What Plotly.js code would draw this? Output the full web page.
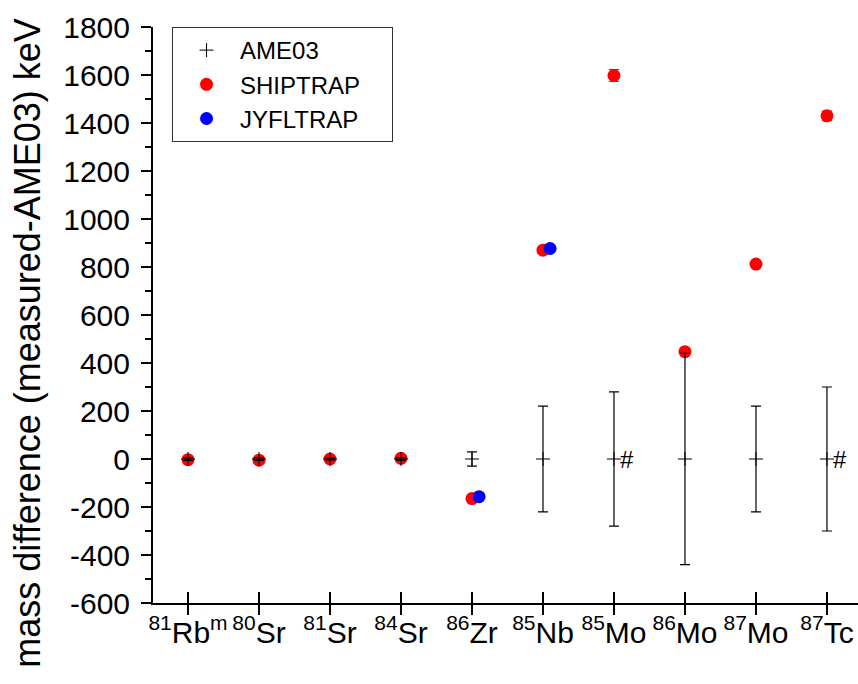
<!DOCTYPE html>
<html>
<head>
<meta charset="utf-8">
<script src="https://cdn.plot.ly/plotly-3.0.1.min.js"></script>
<style>html,body{margin:0;padding:0;background:#fff;}#chart{width:858px;height:684px;}</style>
</head>
<body>
<div id="chart"></div>
<script>
// ---- data ----
const nuclides = ["<sup>81</sup>Rb<sup>m</sup>", "<sup>80</sup>Sr", "<sup>81</sup>Sr", "<sup>84</sup>Sr", "<sup>86</sup>Zr",
                  "<sup>85</sup>Nb", "<sup>85</sup>Mo", "<sup>86</sup>Mo", "<sup>87</sup>Mo", "<sup>87</sup>Tc"];
const catIndex = [0, 1, 2, 3, 4, 5, 6, 7, 8, 9];

const yTickVals = [-600, -400, -200, 0, 200, 400, 600, 800, 1000, 1200, 1400, 1600, 1800];
const yTickText = ["-600", "-400", "-200", "0", "200", "400", "600", "800", "1000", "1200", "1400", "1600", "1800"];

const ame03Values = [0, 0, 0, 0, 0, 0, 0, 0, 0, 0];
const ame03Errors = [6, 6, 4, 6, 30, 220, 280, 440, 220, 300];

const shiptrapValues = [-3, -5, 0, 3, -165, 870, 1598, 447, 812, 1430];
const shiptrapErrors = [8, 8, 8, 8, 8, 8, 25, 8, 8, 20];

const jyflCats = [4, 5];           // 86Zr, 85Nb
const jyflValues = [-157, 877];
const jyflErrors = [8, 8];

const hashCats = [6, 9];           // 85Mo, 87Tc marked with "#"

// ---- styling constants ----
const jyflOffset = 0.1;
const hashOffset = 0.18;
const FONT = "Liberation Sans, Arial, sans-serif";
const PAD = "\u00a0\u00a0\u00a0\u00a0";

const traces = [
  {
    name: "SHIPTRAP" + PAD, x: catIndex, y: shiptrapValues, type: "scatter", mode: "markers",
    marker: {color: "#ff0000", size: 13, line: {width: 0}},
    error_y: {type: "data", array: shiptrapErrors, visible: true, color: "#ff0000", thickness: 1, width: 5},
    legendrank: 2
  },
  {
    name: "JYFLTRAP", x: jyflCats.map(c => c + jyflOffset), y: jyflValues, type: "scatter", mode: "markers",
    marker: {color: "#0000ff", size: 13, line: {width: 0}},
    error_y: {type: "data", array: jyflErrors, visible: true, color: "#0000ff", thickness: 1, width: 5},
    legendrank: 3
  },
  {
    name: "AME03", x: catIndex, y: ame03Values, type: "scatter", mode: "markers",
    marker: {symbol: "cross-thin-open", color: "#000", size: 10, line: {width: 1, color: "#000"}},
    error_y: {type: "data", array: ame03Errors, visible: true, color: "#000", thickness: 1.2, width: 5},
    legendrank: 1
  },
  {
    x: catIndex, y: ame03Values, xaxis: "x2", type: "scatter", mode: "markers",
    marker: {opacity: 0}, showlegend: false, hoverinfo: "skip"
  }
];

const xr = [-0.493, 9.437];

const layout = {
  width: 858, height: 684,
  margin: {l: 153, r: 0, t: 27, b: 81},
  paper_bgcolor: "#fff", plot_bgcolor: "#fff",
  font: {family: FONT, color: "#000"},
  showlegend: true,
  xaxis: {
    range: xr, showgrid: false, zeroline: false,
    showline: true, linewidth: 2, linecolor: "#000",
    ticks: "outside", ticklen: 10, tickwidth: 2, tickcolor: "#000",
    tickmode: "array", tickvals: catIndex, ticktext: nuclides,
    ticklabelstandoff: -8,
    tickfont: {family: FONT, size: 30, color: "#000"}
  },
  xaxis2: {
    range: xr, overlaying: "x", anchor: "y", side: "bottom",
    showgrid: false, zeroline: false, showline: false,
    ticks: "inside", ticklen: 11, tickwidth: 2, tickcolor: "#000",
    tickmode: "array", tickvals: catIndex, showticklabels: false
  },
  yaxis: {
    range: [-600, 1800], showgrid: false, zeroline: false,
    showline: true, linewidth: 2, linecolor: "#000",
    ticks: "outside", ticklen: 10, tickwidth: 2, tickcolor: "#000",
    tickmode: "array", tickvals: yTickVals, ticktext: yTickText,
    ticklabelstandoff: 5,
    minor: {dtick: 100, tick0: 0, ticks: "outside", ticklen: 6, tickwidth: 2, tickcolor: "#000", showgrid: false},
    tickfont: {family: FONT, size: 30, color: "#000"}
  },
  legend: {
    x: 0.027, y: 1, xanchor: "left", yanchor: "top",
    bgcolor: "#fff", bordercolor: "#333", borderwidth: 1,
    itemwidth: 57,
    font: {family: FONT, size: 24, color: "#000"},
    traceorder: "normal"
  },
  annotations: [
    {
      text: "mass difference (measured-AME03) keV", xref: "paper", yref: "paper",
      x: -0.178, y: 0.451, xanchor: "center", yanchor: "middle",
      textangle: -90, showarrow: false,
      font: {family: FONT, size: 36, color: "#000"}
    }
  ].concat(hashCats.map(c => ({
    text: "#", x: c + hashOffset, y: 0, xref: "x", yref: "y", showarrow: false,
    xanchor: "center", yanchor: "middle",
    font: {family: FONT, size: 24, color: "#000"}
  })))
};

Plotly.newPlot("chart", traces, layout, {displayModeBar: false, staticPlot: true});
</script>
</body>
</html>
